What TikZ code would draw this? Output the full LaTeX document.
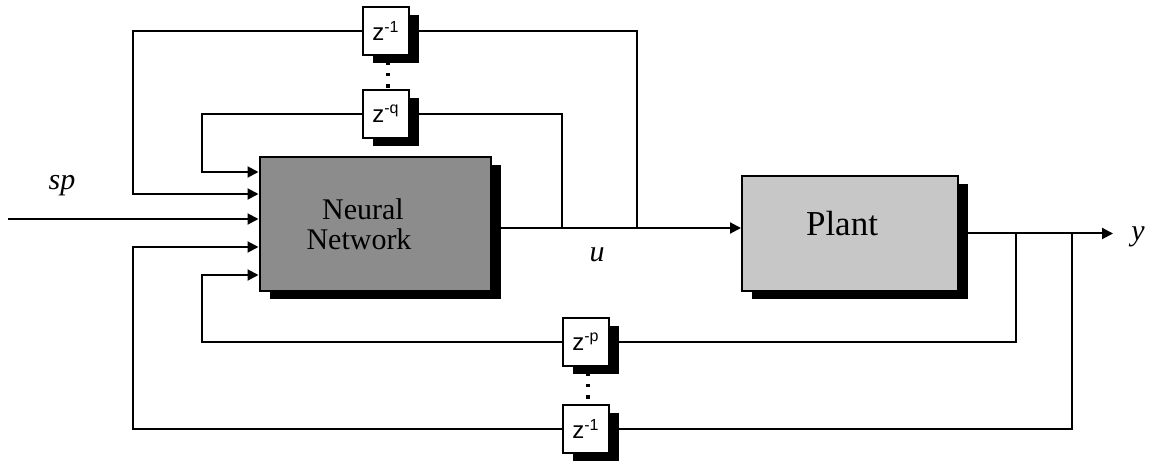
\documentclass[tikz,border=0pt]{standalone}
\usepackage{fontspec}
\setmainfont{Liberation Serif}
\newfontfamily\zfont{Liberation Sans}
\usetikzlibrary{arrows.meta,shadows,calc}
\tikzset{
  block/.style={draw,line width=1pt,inner sep=0pt,drop shadow={shadow xshift=5pt,shadow yshift=-4pt,fill=black,opacity=1}},
  delaybox/.style={block,fill=white,minimum width=23pt,minimum height=24pt,font=\zfont\fontsize{12}{12}\selectfont},
  wire/.style={line width=1pt},
  arr/.style={wire,-{Triangle[length=5.5pt,width=5.5pt]}},
  dotline/.style={line width=1.6pt,dash pattern=on 1.6pt off 4pt},
  sig/.style={font=\itshape\fontsize{15}{15}\selectfont}
}

\begin{document}
\begin{tikzpicture}[x=.5pt,y=-.5pt]
    \useasboundingbox (0,0) rectangle (1155,464);
    % blocks
    \node[block,fill=black!45,minimum width=115.5pt,minimum height=67pt,align=center,font=\fontsize{15}{15}\selectfont] (nn) at (375,224) {\hspace*{-12pt}Neural\\\hspace*{-16pt}Network};
    \node[block,fill=black!22,minimum width=108pt,minimum height=57.5pt,font=\fontsize{17.5}{17.5}\selectfont] (plant) at (850,233.5) {\hspace*{-8pt}\raisebox{10pt}{Plant}};
    \node[delaybox] (dtop) at (386,31) {z\textsuperscript{-1}};
    \node[delaybox] (dq) at (386,114) {z\textsuperscript{-q}};
    \node[delaybox] (dp) at (586,342) {z\textsuperscript{-p}};
    \node[delaybox] (dbot) at (586,429) {z\textsuperscript{-1}};
    % junctions and bends
    \coordinate (ja) at (562,228); \coordinate (jb) at (637,228);
    \coordinate (jc) at (1016,233.5); \coordinate (jd) at (1072,233.5);
    \coordinate (yend) at (1113,233.5); \coordinate (spin) at (8,219);
    \coordinate (b1) at (202,172); \coordinate (b2) at (133,194);
    \coordinate (b4) at (133,247); \coordinate (b5) at (202,275);
    % forward path
    \draw[arr] (spin) -- (nn.west |- spin);
    \draw[wire] (nn.east |- ja) -- (jb);
    \draw[arr] (jb) -- (jb -| plant.west);
    \draw[arr] (plant.east |- yend) -- (yend);
    % delayed controls
    \draw[wire] (jb) |- (dtop); \draw[arr] (dtop) -| (b2) -- (nn.west |- b2);
    \draw[wire] (ja) |- (dq); \draw[arr] (dq) -| (b1) -- (nn.west |- b1);
    % delayed outputs
    \draw[wire] (jc) |- (dp); \draw[arr] (dp) -| (b5) -- (nn.west |- b5);
    \draw[wire] (jd) |- (dbot); \draw[arr] (dbot) -| (b4) -- (nn.west |- b4);
    \draw[dotline] ($(dtop.south)+(2,6)$) -- ($(dq.north)+(2,0)$);
    \draw[dotline] ($(dp.south)+(2,6)$) -- ($(dbot.north)+(2,0)$);
    % signals
    \node[sig] (sp) at (62,186) {sp};
    \node[sig] (u) at (597,255) {u};
    \node[sig] (y) at (1138,237) {y};
\end{tikzpicture}
\end{document}
